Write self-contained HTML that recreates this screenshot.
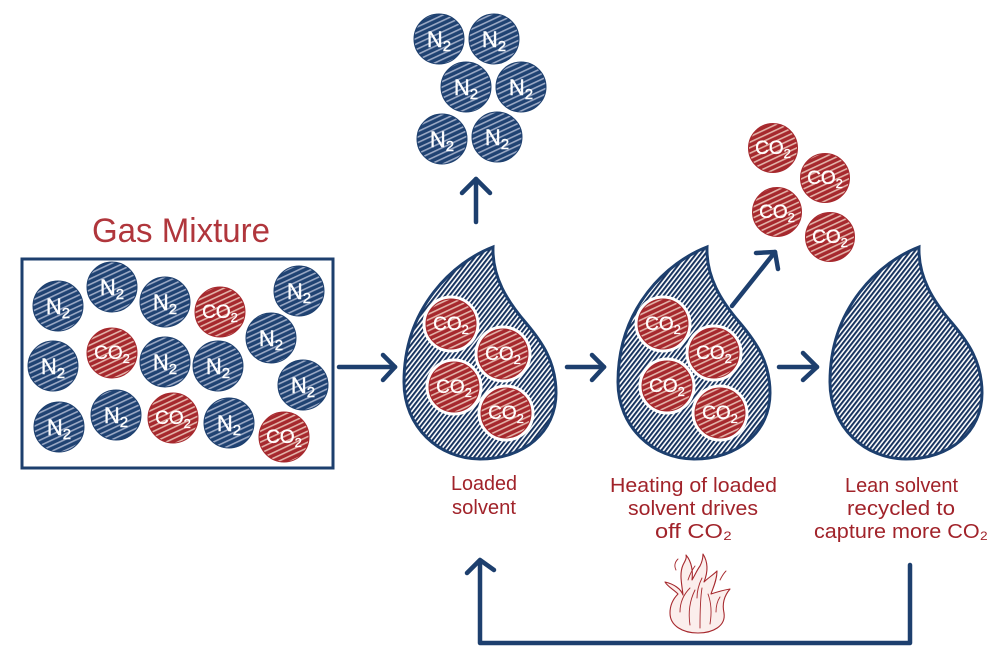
<!DOCTYPE html>
<html><head><meta charset="utf-8"><style>
html,body{margin:0;padding:0;background:#fff;}
svg{display:block;}
.n{font-family:"Liberation Sans",sans-serif;font-size:22px;fill:#fff;stroke:#fff;stroke-width:0.4;text-anchor:middle;}
.c{font-family:"Liberation Sans",sans-serif;font-size:19px;fill:#fff;stroke:#fff;stroke-width:0.3;text-anchor:middle;}
.lbl{font-family:"Liberation Sans",sans-serif;font-size:20px;fill:#a1232a;}
</style></head><body>
<svg width="1000" height="669" viewBox="0 0 1000 669" xmlns="http://www.w3.org/2000/svg">
<defs>
  <pattern id="bp" patternUnits="userSpaceOnUse" width="10" height="5" patternTransform="rotate(-25)">
    <rect width="10" height="5" fill="#1f4272"/>
    <rect y="0" width="10" height="1.6" fill="#9aa8c4"/>
  </pattern>
  <pattern id="rp" patternUnits="userSpaceOnUse" width="10" height="5" patternTransform="rotate(-25)">
    <rect width="10" height="5" fill="#a6282d"/>
    <rect y="0" width="10" height="1.6" fill="#e2b2a8"/>
  </pattern>
  <pattern id="hp" patternUnits="userSpaceOnUse" width="3.6" height="10" patternTransform="rotate(38)">
    <rect width="3.6" height="10" fill="#fff"/>
    <rect x="0" width="2.0" height="10" fill="#17335f"/>
  </pattern>
  <path id="drop" d="M89,0 C50,15 0,60 0,135 C0,180 35,212 76,212 C120,212 152,185 152,146 C152,115 138,95 122,76 C103,54 88,30 89,0 Z"/>
</defs>

<!-- Title -->
<text x="92" y="242" font-family="Liberation Sans, sans-serif" font-size="34" fill="#b0363c" textLength="178" lengthAdjust="spacingAndGlyphs">Gas Mixture</text>

<!-- Gas box -->
<rect x="22" y="259" width="311" height="209" fill="#fff" stroke="#1d3f6e" stroke-width="3"/>

<g stroke="#1d3f6e" stroke-width="1">
<circle cx="58" cy="306" r="25" fill="url(#bp)"/>
<circle cx="112" cy="287" r="25" fill="url(#bp)"/>
<circle cx="165" cy="302" r="25" fill="url(#bp)"/>
<circle cx="220" cy="312" r="25" fill="url(#rp)" stroke="#a6282d"/>
<circle cx="299" cy="291" r="25" fill="url(#bp)"/>
<circle cx="271" cy="338" r="25" fill="url(#bp)"/>
<circle cx="53" cy="366" r="25" fill="url(#bp)"/>
<circle cx="112" cy="353" r="25" fill="url(#rp)" stroke="#a6282d"/>
<circle cx="165" cy="362" r="25" fill="url(#bp)"/>
<circle cx="218" cy="366" r="25" fill="url(#bp)"/>
<circle cx="303" cy="385" r="25" fill="url(#bp)"/>
<circle cx="59" cy="427" r="25" fill="url(#bp)"/>
<circle cx="116" cy="415" r="25" fill="url(#bp)"/>
<circle cx="173" cy="418" r="25" fill="url(#rp)" stroke="#a6282d"/>
<circle cx="229" cy="423" r="25" fill="url(#bp)"/>
<circle cx="284" cy="437" r="25" fill="url(#rp)" stroke="#a6282d"/>
</g>
<text class="n" x="58" y="314">N<tspan dy="4" font-size="15">2</tspan></text>
<text class="n" x="112" y="295">N<tspan dy="4" font-size="15">2</tspan></text>
<text class="n" x="165" y="310">N<tspan dy="4" font-size="15">2</tspan></text>
<text class="c" x="220" y="318">CO<tspan dy="4" font-size="13">2</tspan></text>
<text class="n" x="299" y="299">N<tspan dy="4" font-size="15">2</tspan></text>
<text class="n" x="271" y="346">N<tspan dy="4" font-size="15">2</tspan></text>
<text class="n" x="53" y="374">N<tspan dy="4" font-size="15">2</tspan></text>
<text class="c" x="112" y="359">CO<tspan dy="4" font-size="13">2</tspan></text>
<text class="n" x="165" y="370">N<tspan dy="4" font-size="15">2</tspan></text>
<text class="n" x="218" y="374">N<tspan dy="4" font-size="15">2</tspan></text>
<text class="n" x="303" y="393">N<tspan dy="4" font-size="15">2</tspan></text>
<text class="n" x="59" y="435">N<tspan dy="4" font-size="15">2</tspan></text>
<text class="n" x="116" y="423">N<tspan dy="4" font-size="15">2</tspan></text>
<text class="c" x="173" y="424">CO<tspan dy="4" font-size="13">2</tspan></text>
<text class="n" x="229" y="431">N<tspan dy="4" font-size="15">2</tspan></text>
<text class="c" x="284" y="443">CO<tspan dy="4" font-size="13">2</tspan></text>

<!-- Top N2 cluster -->
<g stroke="#1d3f6e" stroke-width="1" fill="url(#bp)">
<circle cx="439" cy="39" r="25"/>
<circle cx="494" cy="39" r="25"/>
<circle cx="466" cy="87" r="25"/>
<circle cx="521" cy="87" r="25"/>
<circle cx="442" cy="139" r="25"/>
<circle cx="497" cy="137" r="25"/>
</g>
<text class="n" x="439" y="47">N<tspan dy="4" font-size="15">2</tspan></text>
<text class="n" x="494" y="47">N<tspan dy="4" font-size="15">2</tspan></text>
<text class="n" x="466" y="95">N<tspan dy="4" font-size="15">2</tspan></text>
<text class="n" x="521" y="95">N<tspan dy="4" font-size="15">2</tspan></text>
<text class="n" x="442" y="147">N<tspan dy="4" font-size="15">2</tspan></text>
<text class="n" x="497" y="145">N<tspan dy="4" font-size="15">2</tspan></text>

<!-- CO2 cluster -->
<g stroke="#a6282d" stroke-width="1" fill="url(#rp)">
<circle cx="773" cy="148" r="24.5"/>
<circle cx="825" cy="178" r="24.5"/>
<circle cx="777" cy="212" r="24.5"/>
<circle cx="830" cy="237" r="24.5"/>
</g>
<text class="c" x="773" y="154">CO<tspan dy="4" font-size="13">2</tspan></text>
<text class="c" x="825" y="184">CO<tspan dy="4" font-size="13">2</tspan></text>
<text class="c" x="777" y="218">CO<tspan dy="4" font-size="13">2</tspan></text>
<text class="c" x="830" y="243">CO<tspan dy="4" font-size="13">2</tspan></text>

<!-- Drops -->
<use href="#drop" transform="translate(404,247)" fill="url(#hp)" stroke="#1d3f6e" stroke-width="3"/>
<use href="#drop" transform="translate(618,247)" fill="url(#hp)" stroke="#1d3f6e" stroke-width="3"/>
<use href="#drop" transform="translate(830,247)" fill="url(#hp)" stroke="#1d3f6e" stroke-width="3"/>

<!-- Drop circles -->
<g fill="#fff">
<circle cx="451" cy="324" r="28.5"/><circle cx="503" cy="354" r="28.5"/>
<circle cx="454" cy="387" r="28.5"/><circle cx="506" cy="413" r="28.5"/>
<circle cx="663" cy="324" r="28.5"/><circle cx="714" cy="353" r="28.5"/>
<circle cx="667" cy="386" r="28.5"/><circle cx="720" cy="413" r="28.5"/>
</g>
<g stroke="#a6282d" stroke-width="1" fill="url(#rp)">
<circle cx="451" cy="324" r="25"/><circle cx="503" cy="354" r="25"/>
<circle cx="454" cy="387" r="25"/><circle cx="506" cy="413" r="25"/>
<circle cx="663" cy="324" r="25"/><circle cx="714" cy="353" r="25"/>
<circle cx="667" cy="386" r="25"/><circle cx="720" cy="413" r="25"/>
</g>
<text class="c" x="451" y="330">CO<tspan dy="4" font-size="13">2</tspan></text>
<text class="c" x="503" y="360">CO<tspan dy="4" font-size="13">2</tspan></text>
<text class="c" x="454" y="393">CO<tspan dy="4" font-size="13">2</tspan></text>
<text class="c" x="506" y="419">CO<tspan dy="4" font-size="13">2</tspan></text>
<text class="c" x="663" y="330">CO<tspan dy="4" font-size="13">2</tspan></text>
<text class="c" x="714" y="359">CO<tspan dy="4" font-size="13">2</tspan></text>
<text class="c" x="667" y="392">CO<tspan dy="4" font-size="13">2</tspan></text>
<text class="c" x="720" y="419">CO<tspan dy="4" font-size="13">2</tspan></text>

<!-- Arrows -->
<g fill="none" stroke="#1d3f6e" stroke-width="4.5" stroke-linecap="round" stroke-linejoin="round">
<line x1="476" y1="222" x2="476" y2="179"/>
<polyline points="462,193 476,179 490,193"/>
<line x1="732" y1="306" x2="775" y2="252"/>
<polyline points="756,253 775,252 778,269"/>
<line x1="339" y1="367" x2="395" y2="367"/>
<polyline points="383,355 395,367 383,380"/>
<line x1="567" y1="367" x2="604" y2="367"/>
<polyline points="592,355 604,367 592,380"/>
<line x1="779" y1="367" x2="817" y2="367"/>
<polyline points="803,353 817,367 803,380"/>
<polyline points="910,565 910,643 480,643 480,561"/>
<polyline points="467,573 480,560 494,570"/>
</g>

<!-- Labels -->
<text class="lbl" x="451" y="490" textLength="66" lengthAdjust="spacingAndGlyphs">Loaded</text>
<text class="lbl" x="452" y="514" textLength="64" lengthAdjust="spacingAndGlyphs">solvent</text>
<text class="lbl" x="610" y="492" textLength="167" lengthAdjust="spacingAndGlyphs">Heating of loaded</text>
<text class="lbl" x="628" y="515" textLength="130" lengthAdjust="spacingAndGlyphs">solvent drives</text>
<text class="lbl" x="655" y="538" textLength="77" lengthAdjust="spacingAndGlyphs">off CO₂</text>
<text class="lbl" x="845" y="492" textLength="113" lengthAdjust="spacingAndGlyphs">Lean solvent</text>
<text class="lbl" x="847" y="515" textLength="108" lengthAdjust="spacingAndGlyphs">recycled to</text>
<text class="lbl" x="814" y="538" textLength="174" lengthAdjust="spacingAndGlyphs">capture more CO₂</text>

<!-- Fire -->
<g fill="#fbeeec" stroke="#a6282d" stroke-width="1.1" stroke-linejoin="round">
<path d="M698,633 C683,633 670,626 670,613 C670,604 674,598 678,594 C673,589 668,587 665,582 C674,584 681,589 683,595 C682,585 679,574 683,565 C685,561 687,558 686,555 C692,562 693,572 692,580 C695,575 697,570 700,566 C702,562 703,558 703,554 C708,562 708,572 704,582 C708,578 713,575 717,571 C717,580 713,588 711,594 C717,592 724,590 730,589 C724,596 722,604 724,613 C726,626 713,633 698,633 Z"/>
</g>
<g fill="none" stroke="#a6282d" stroke-width="0.9" stroke-linecap="round">
<path d="M680,612 C680,600 686,592 690,588"/>
<path d="M690,625 C688,612 690,600 695,590"/>
<path d="M700,628 C700,614 700,600 702,588"/>
<path d="M710,624 C712,612 711,602 708,594"/>
<path d="M716,612 C716,604 718,600 720,597"/>
<path d="M688,580 C690,574 692,570 695,566"/>
<path d="M697,598 C697,590 699,584 702,578"/>
<path d="M676,570 C674,566 675,562 678,559"/>
<path d="M720,580 C722,576 724,573 726,571"/>
</g>
</svg>
</body></html>
